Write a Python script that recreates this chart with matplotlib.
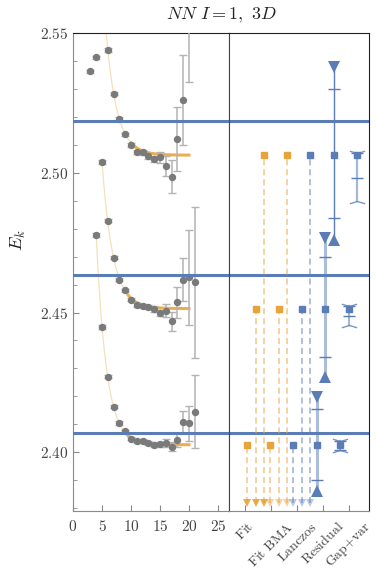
import numpy as np
import matplotlib
matplotlib.use('Agg')
import matplotlib.pyplot as plt
from matplotlib.path import Path

plt.rcParams['mathtext.fontset'] = 'cm'
plt.rcParams['font.family'] = 'serif'

# ---- effective energies, three levels (low -> high) ----
t_lvl = [
    [3, 4, 5, 6, 7, 8, 9, 10, 11, 12, 13, 14, 15, 16, 17, 18, 19, 20, 21],
    [4, 5, 6, 7, 8, 9, 10, 11, 12, 13, 14, 15, 16, 17, 18, 19, 20, 21],
    [6, 7, 8, 9, 10, 11, 12, 13, 14, 15, 16, 17, 18, 19, 20],
]
E_lvl = [
    [2.5363, 2.4777, 2.4448, 2.4271, 2.4163, 2.4105, 2.4075, 2.4049, 2.4040, 2.4041,
     2.4033, 2.4027, 2.4028, 2.4033, 2.4020, 2.4043, 2.4108, 2.4104, 2.4145],
    [2.5413, 2.5039, 2.4829, 2.4696, 2.4618, 2.4579, 2.4546, 2.4527, 2.4525, 2.4520,
     2.4512, 2.4498, 2.4507, 2.4468, 2.4537, 2.4617, 2.4627, 2.4609],
    [2.5439, 2.5283, 2.5192, 2.5137, 2.5099, 2.5073, 2.5073, 2.5061, 2.5049, 2.5055,
     2.5025, 2.4986, 2.5120, 2.5261, 2.5573],
]
err_lvl = [
    [0.0006, 0.0006, 0.0006, 0.0006, 0.0006, 0.0006, 0.0006, 0.0006, 0.0006, 0.0007,
     0.0008, 0.0009, 0.0010, 0.0013, 0.0017, 0.0025, 0.0038, 0.0063, 0.0130],
    [0.0006, 0.0006, 0.0006, 0.0006, 0.0006, 0.0006, 0.0006, 0.0006, 0.0007, 0.0008,
     0.0010, 0.0012, 0.0022, 0.0033, 0.0055, 0.0077, 0.0170, 0.0270],
    [0.0006, 0.0006, 0.0006, 0.0006, 0.0006, 0.0007, 0.0008, 0.0010, 0.0012, 0.0020,
     0.0035, 0.0060, 0.0115, 0.0160, 0.0250],
]

# single-exponential fit E0 + A exp(-dE t)
fit_E0 = [2.4027, 2.4514, 2.5063]
fit_A = [0.733, 0.743, 0.937]
fit_dE = [0.57, 0.53, 0.536]
curve_t0 = [4, 5, 5]
fit_t0 = [9.5, 9.5, 10]
fit_t1 = 20

# reference levels (horizontal lines)
ref_levels = [2.4070, 2.4633, 2.5185]

# ---- right panel: per-method estimates ----
methods = ['Fit', 'Fit BMA', 'Lanczos', 'Residual', 'Gap+var']
fit_vals = [2.4026, 2.4514, 2.5063]
bma_vals = [2.4026, 2.4514, 2.5063]
lanczos_vals = [2.4025, 2.4513, 2.5063]
resid_vals = [2.4026, 2.4514, 2.5063]
resid_err_lo = [2.3900, 2.4340, 2.4839]
resid_err_hi = [2.4156, 2.4698, 2.5299]
resid_lo = [2.3862, 2.4269, 2.4758]
resid_hi = [2.4199, 2.4767, 2.5380]
gap_vals = [2.4026, 2.4514, 2.5063]
gap_err_lo = [2.4010, 2.4489, 2.4981]
gap_err_hi = [2.4040, 2.4522, 2.5070]
gap_lo = [2.4007, 2.4456, 2.4900]
gap_hi = [2.4039, 2.4523, 2.5072]

ORANGE = '#E8A33A'
BLUE = '#5A7DB7'
GRAY = '#7a7a7a'
SPINE = '#8a8a8a'
TXT = '#444444'

YMIN, YMAX = 2.379, 2.55

W, H = 377, 573
fig = plt.figure(figsize=(W / 100, H / 100), dpi=100)
ax1 = fig.add_axes([73 / W, 1 - 511 / H, (229 - 73) / W, (511 - 33) / H])
ax2 = fig.add_axes([229 / W, 1 - 511 / H, (369 - 229) / W, (511 - 33) / H], sharey=ax1)

# ---------------- left panel ----------------
for k in range(3):
    tt = np.linspace(curve_t0[k], fit_t1, 200)
    ax1.plot(tt, fit_E0[k] + fit_A[k] * np.exp(-fit_dE[k] * tt),
             color=ORANGE, alpha=0.35, lw=0.9, zorder=2)
    tf = np.linspace(fit_t0[k], fit_t1, 100)
    ax1.plot(tf, fit_E0[k] + fit_A[k] * np.exp(-fit_dE[k] * tf),
             color=ORANGE, alpha=0.85, lw=2.2, zorder=2)
    ax1.errorbar(t_lvl[k], E_lvl[k], yerr=err_lvl[k], fmt='o', color=GRAY,
                 ms=4.3, ecolor='#b3b3b3', elinewidth=1.1, capsize=3, capthick=1,
                 zorder=3)

for y in ref_levels:
    ax1.axhline(y, color=BLUE, lw=2.2, zorder=4)

ax1.set_xlim(0, 26.9)
ax1.set_ylim(YMIN, YMAX)
ax1.set_xticks(range(0, 26, 5))
ax1.set_xticklabels([f'${v}$' for v in range(0, 26, 5)])
yt = [2.40, 2.45, 2.50, 2.55]
ax1.set_yticks(yt)
ax1.set_yticklabels([f'${v:.2f}$' for v in yt])
ax1.set_yticks(np.arange(2.38, 2.551, 0.01), minor=True)
ax1.tick_params(axis='both', which='both', direction='in', colors=SPINE,
                labelcolor=TXT, labelsize=11, top=False, right=False)
ax1.tick_params(axis='y', which='major', length=4)
ax1.tick_params(axis='y', which='minor', length=3)
ax1.tick_params(axis='x', length=4, pad=6)
ax1.spines['left'].set_color(SPINE)
ax1.spines['bottom'].set_color(SPINE)
ax1.spines['top'].set_color('#222222')
ax1.spines['right'].set_color('#444444')

# ---------------- right panel ----------------
cx = 1.35 + 0.89 * np.arange(len(methods))
dx = [-0.34, 0.0, 0.31]
floor = YMIN + 0.0028
dash = (0, (4, 2.5))

chev_down = Path([(-1, 0.3), (0, 0), (1, 0.3)], [Path.MOVETO, Path.LINETO, Path.LINETO])
chev_up = Path([(-1, -0.3), (0, 0), (1, -0.3)], [Path.MOVETO, Path.LINETO, Path.LINETO])

for i, (vals, col, a_tri) in enumerate([(fit_vals, ORANGE, 0.9),
                                        (bma_vals, ORANGE, 0.45),
                                        (lanczos_vals, BLUE, 0.4)]):
    for k in range(3):
        x = cx[i] + dx[k]
        ax2.plot([x, x], [floor, vals[k]], color=col, alpha=0.6, lw=1.1,
                 linestyle=dash, zorder=2)
        ax2.plot(x, floor, 'v', color=col, alpha=a_tri, ms=6, mew=0, zorder=3)
        ax2.errorbar(x, vals[k], yerr=0.0006, fmt='s', color=col, ms=5,
                     elinewidth=1, capsize=2.5, zorder=4)

for k in range(3):
    x = cx[3] + dx[k]
    lw, a = (1.0, 1.0) if k == 2 else (2.2, 0.5)
    ax2.plot([x, x], [resid_lo[k], resid_hi[k]], color=BLUE, lw=lw, alpha=a, zorder=2)
    ax2.errorbar(x, resid_vals[k],
                 yerr=[[resid_vals[k] - resid_err_lo[k]], [resid_err_hi[k] - resid_vals[k]]],
                 fmt='s', color=BLUE, ms=5, ecolor=BLUE, elinewidth=0, capsize=4,
                 capthick=1, alpha=1, zorder=3)
    ax2.plot(x, resid_hi[k], 'v', color=BLUE, ms=8.5, mew=0, zorder=4)
    ax2.plot(x, resid_lo[k], '^', color=BLUE, ms=8.5, mew=0, zorder=4)

for k in range(3):
    x = cx[4] + dx[k]
    ax2.plot([x, x], [gap_lo[k], gap_hi[k]], color=BLUE, lw=1.6, alpha=0.55, zorder=2)
    ax2.errorbar(x, gap_vals[k],
                 yerr=[[gap_vals[k] - gap_err_lo[k]], [gap_err_hi[k] - gap_vals[k]]],
                 fmt='s', color=BLUE, ms=5, ecolor=BLUE, elinewidth=0, capsize=4,
                 capthick=1, zorder=3)
    ax2.plot(x, gap_hi[k], marker=chev_down, color=BLUE, ms=11, mew=1,
             mfc='none', alpha=0.8, zorder=4)
    ax2.plot(x, gap_lo[k], marker=chev_up, color=BLUE, ms=11, mew=1,
             mfc='none', alpha=0.8, zorder=4)

for y in ref_levels:
    ax2.axhline(y, color=BLUE, lw=2.2, zorder=1)

ax2.set_xlim(0.31, 5.695)
ax2.set_xticks(np.arange(1, len(methods) + 1) - 0.08)
ax2.set_xticklabels([r'$\mathrm{' + m.replace(' ', r'\ ').replace('+', '{+}') + '}$'
                     for m in methods], rotation=45, ha='center', va='top')
ax2.tick_params(axis='x', direction='in', length=4, colors=SPINE, labelcolor=TXT,
                labelsize=10, pad=6)
ax2.tick_params(axis='y', which='both', left=False, right=False, labelleft=False)
ax2.spines['left'].set_color('#444444')
ax2.spines['bottom'].set_color(SPINE)
ax2.spines['top'].set_color('#222222')
ax2.spines['right'].set_color('#222222')

fig.text(221 / W, 1 - 15 / H, r'$NN\ I=1,\ 3D$', ha='center', va='center',
         fontsize=13, color='#222222')
fig.text(18 / W, 1 - 240 / H, r'$E_k$', rotation=90, ha='center', va='center',
         fontsize=13, color='#222222')

fig.savefig('out.png', dpi=100)
